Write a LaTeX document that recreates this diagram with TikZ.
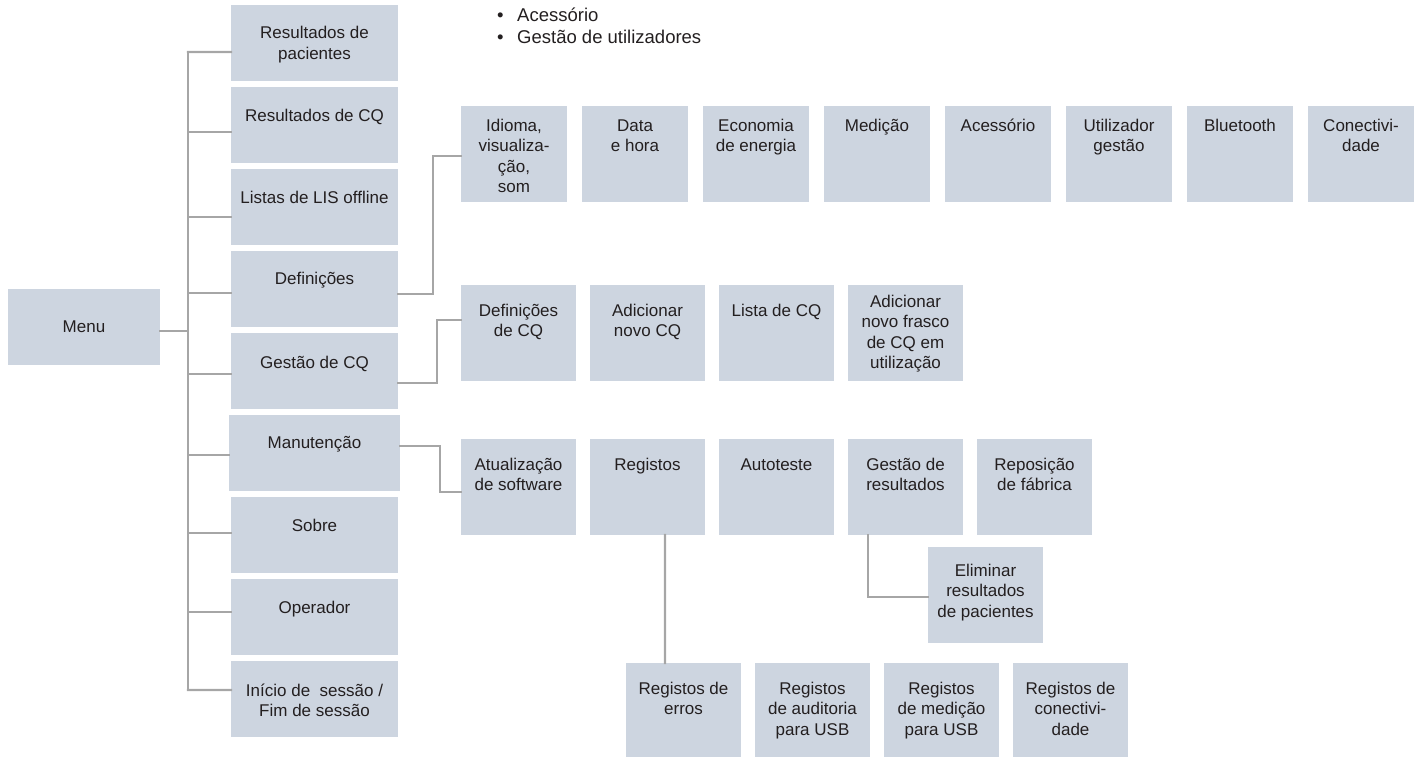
\documentclass[tikz,border=0pt]{standalone}
\usepackage{fontspec}
\setmainfont{Liberation Sans}
\definecolor{boxc}{HTML}{CDD5E0}
\definecolor{linec}{HTML}{A6A6A6}
\definecolor{txtc}{HTML}{231F20}
\newcommand{\cell}[4]{\parbox[c][#2bp][t]{#1bp}{\centering\rule{0pt}{#3bp}#4}}
\tikzset{
  bx/.style={fill=boxc, inner sep=0pt, outer sep=0pt, anchor=north west, text=txtc,
    font=\fontsize{17bp}{20.5bp}\selectfont},
  conn/.style={draw=linec, line width=2.2bp, line cap=rect}
}
\begin{document}
\begin{tikzpicture}[x=1bp,y=-1bp]
\useasboundingbox (0,0) rectangle (1415,757);

% bullet text
\node[anchor=north west, inner sep=0pt, text=txtc, font=\fontsize{18.5bp}{22bp}\selectfont] (bl) at (497,0)
  {\parbox[t]{300bp}{\raggedright\rule{0pt}{21.6bp}\makebox[20bp][l]{•}Acessório\\\makebox[20bp][l]{•}Gestão de utilizadores}};

% menu and first column
\node[bx] (menu) at (8,289) {\cell{152}{76}{43}{Menu}};
\node[bx] (c1) at (231,5)   {\cell{167}{76}{34}{Resultados de\\pacientes}};
\node[bx] (c2) at (231,87)  {\cell{167}{76}{34}{Resultados de CQ}};
\node[bx] (c3) at (231,169) {\cell{167}{76}{34}{Listas de LIS offline}};
\node[bx] (c4) at (231,251) {\cell{167}{76}{33}{Definições}};
\node[bx] (c5) at (231,333) {\cell{167}{76}{35}{Gestão de CQ}};
\node[bx] (c6) at (229,415) {\cell{171}{76}{33}{Manutenção}};
\node[bx] (c7) at (231,497) {\cell{167}{76}{34}{Sobre}};
\node[bx] (c8) at (231,579) {\cell{167}{76}{34}{Operador}};
\node[bx] (c9) at (231,661) {\cell{167}{76}{35}{Início de~ sessão /\\Fim de sessão}};

% settings row
\node[bx] (s1) at (461,106)  {\cell{106}{96}{25}{Idioma,\\visualiza-\\ção,\\som}};
\node[bx] (s2) at (582,106)  {\cell{106}{96}{25}{Data\\e hora}};
\node[bx] (s3) at (703,106)  {\cell{106}{96}{25}{Economia\\de energia}};
\node[bx] (s4) at (824,106)  {\cell{106}{96}{25}{Medição}};
\node[bx] (s5) at (945,106)  {\cell{106}{96}{25}{Acessório}};
\node[bx] (s6) at (1066,106) {\cell{106}{96}{25}{Utilizador\\gestão}};
\node[bx] (s7) at (1187,106) {\cell{106}{96}{25}{Bluetooth}};
\node[bx] (s8) at (1308,106) {\cell{106}{96}{25}{Conectivi-\\dade}};

% QC row
\node[bx] (q1) at (461,285) {\cell{115}{96}{31}{Definições\\de CQ}};
\node[bx] (q2) at (590,285) {\cell{115}{96}{31}{Adicionar\\novo CQ}};
\node[bx] (q3) at (719,285) {\cell{115}{96}{31}{Lista de CQ}};
\node[bx] (q4) at (848,285) {\cell{115}{96}{22}{Adicionar\\novo frasco\\de CQ em\\utilização}};

% maintenance row
\node[bx] (m1) at (461,439) {\cell{115}{96}{31}{Atualização\\de software}};
\node[bx] (m2) at (590,439) {\cell{115}{96}{31}{Registos}};
\node[bx] (m3) at (719,439) {\cell{115}{96}{31}{Autoteste}};
\node[bx] (m4) at (848,439) {\cell{115}{96}{31}{Gestão de\\resultados}};
\node[bx] (m5) at (977,439) {\cell{115}{96}{31}{Reposição\\de fábrica}};

\node[bx] (el) at (928,547) {\cell{115}{96}{29}{Eliminar\\resultados\\de pacientes}};

% logs row
\node[bx] (b1) at (626,663)  {\cell{115}{94}{31}{Registos de\\erros}};
\node[bx] (b2) at (755,663)  {\cell{115}{94}{31}{Registos\\de auditoria\\para USB}};
\node[bx] (b3) at (884,663)  {\cell{115}{94}{31}{Registos\\de medição\\para USB}};
\node[bx] (b4) at (1013,663) {\cell{115}{94}{31}{Registos de\\conectivi-\\dade}};

% spine
\coordinate (stop) at (188,52);
\coordinate (sbot) at (188,690);
\draw[conn] (stop) -- (sbot);
\draw[conn] ([yshift=-4bp]menu.east) -- ++(28,0);
\draw[conn] ([yshift=-9bp]c1.west) -- (stop);
\draw[conn] ([yshift=-7bp]c2.west) -- ++(-43,0);
\draw[conn] ([yshift=-10bp]c3.west) -- ++(-43,0);
\draw[conn] ([yshift=-4bp]c4.west) -- ++(-43,0);
\draw[conn] ([yshift=-3bp]c5.west) -- ++(-43,0);
\draw[conn] ([yshift=-2bp]c6.west) -- ++(-41,0);
\draw[conn] ([yshift=2bp]c7.west) -- ++(-43,0);
\draw[conn] ([yshift=5bp]c8.west) -- ++(-43,0);
\draw[conn] ([yshift=9bp]c9.west) -- (sbot);

% sub-menu connectors
\draw[conn] ([yshift=-5bp]c4.east) -- ++(35,0) |- ([yshift=-2bp]s1.west);
\draw[conn] ([yshift=-12bp]c5.east) -- ++(39,0) |- ([yshift=13bp]q1.west);
\draw[conn] ([yshift=7bp]c6.east) -- ++(40,0) |- ([yshift=-5bp]m1.west);
\draw[conn] ([xshift=17.5bp]m2.south) -- ([xshift=-18.5bp]b1.north);
\draw[conn] ([xshift=-37.5bp]m4.south) |- ([yshift=-2bp]el.west);
\end{tikzpicture}
\end{document}
